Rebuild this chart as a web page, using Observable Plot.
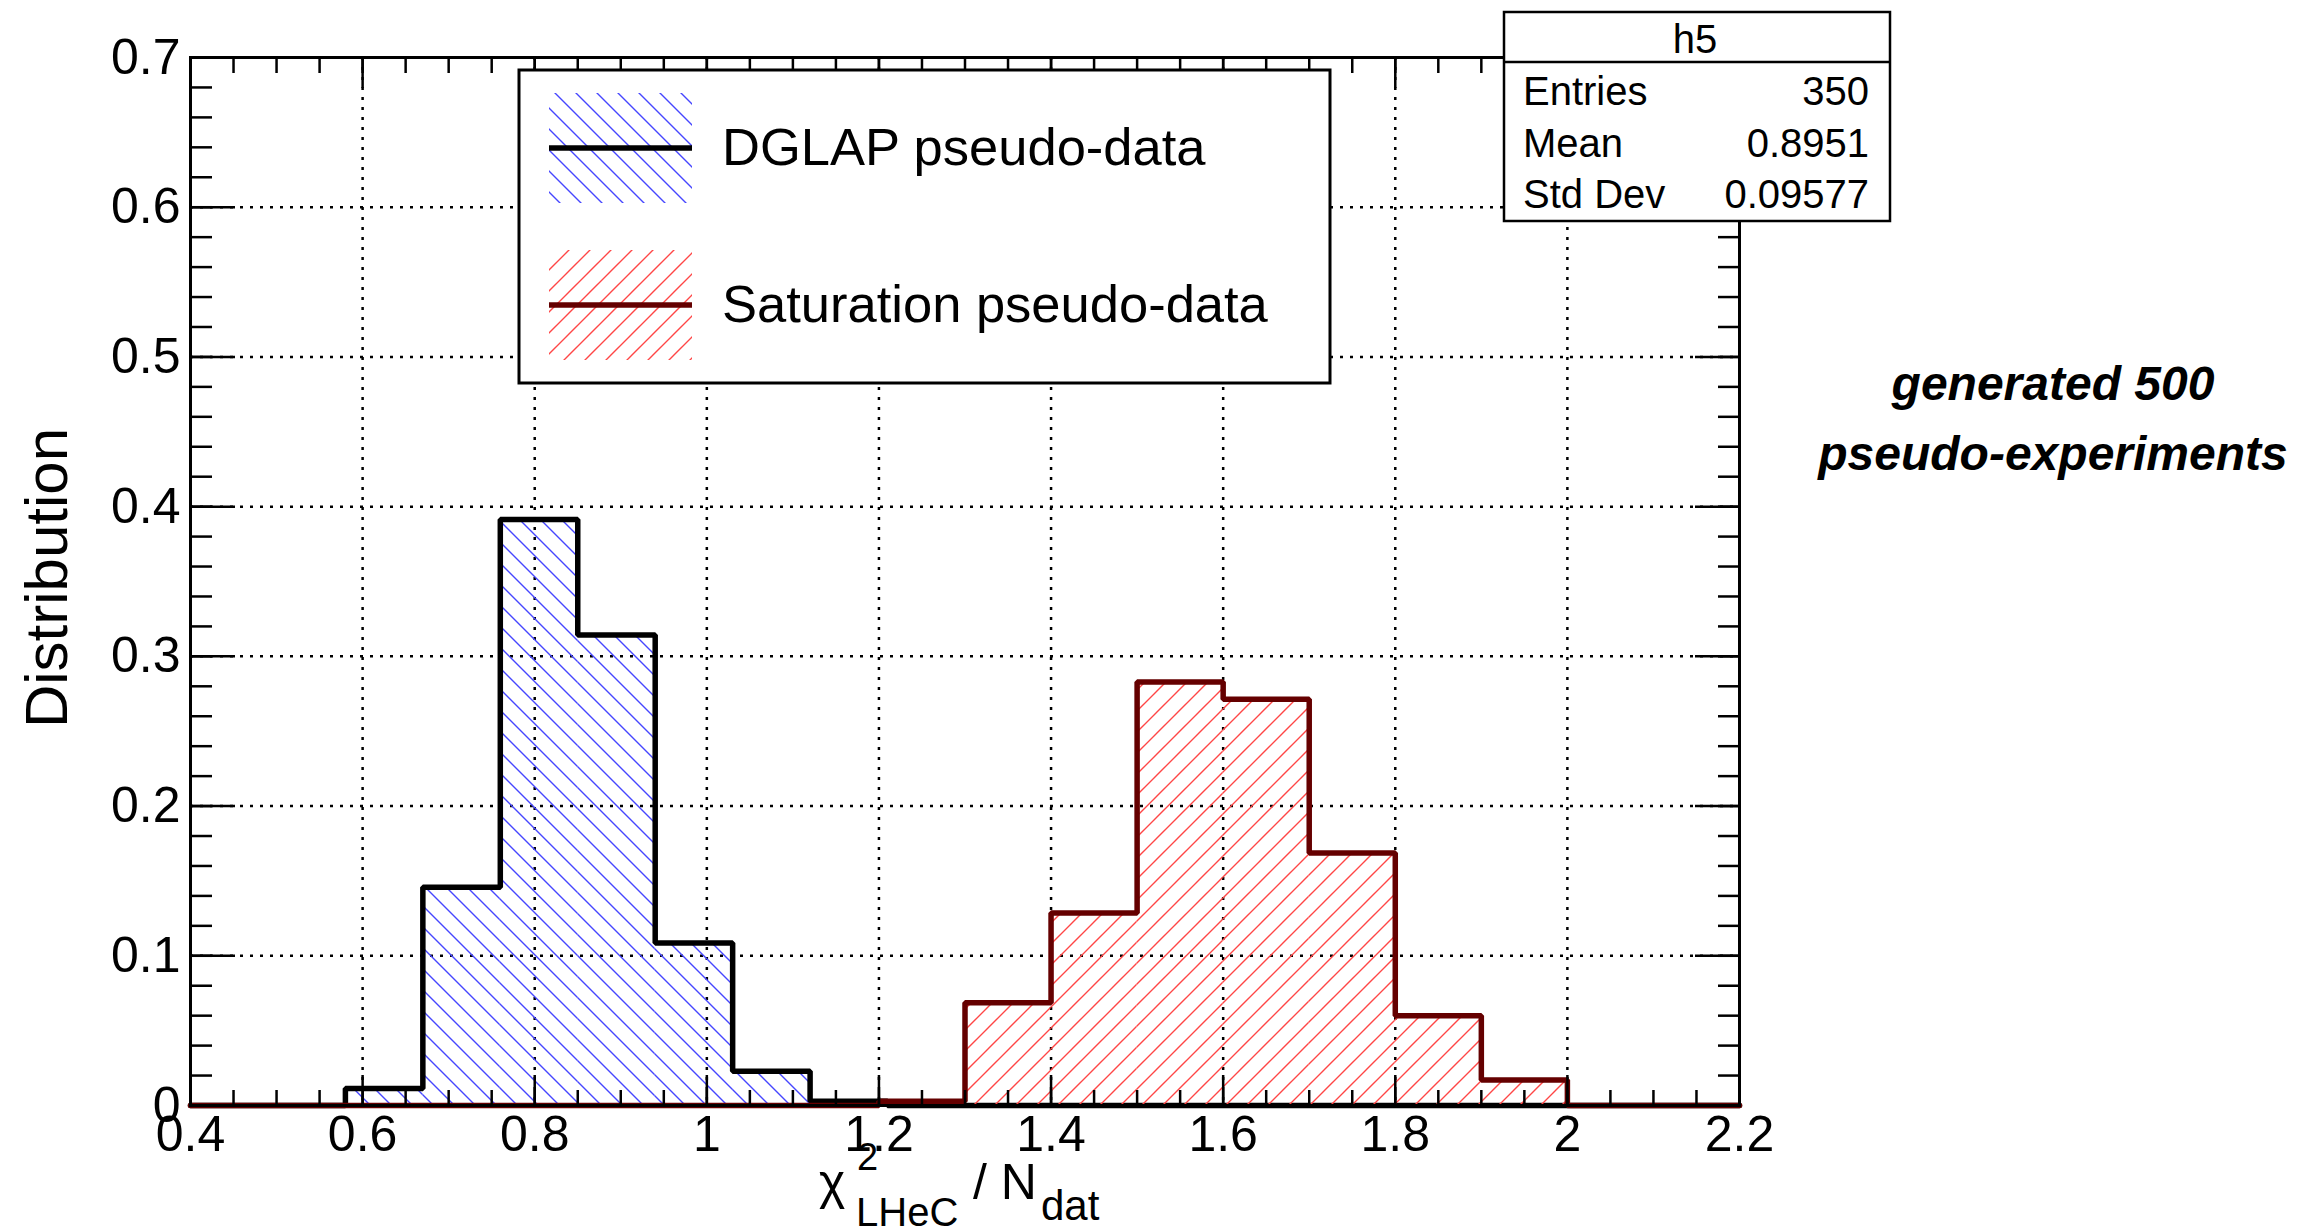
<!DOCTYPE html>
<html><head><meta charset="utf-8">
<script src="https://cdn.jsdelivr.net/npm/d3@7"></script>
<script src="https://cdn.jsdelivr.net/npm/@observablehq/plot@0.6"></script>
<style>
html,body{margin:0;padding:0;background:#fff;}
#chart{position:relative;width:2321px;height:1232px;}
svg{display:block;}
</style></head><body><div id="chart"></div>
<script>
// ---- data ----
const dglapEdges = [0.4,0.49,0.58,0.67,0.76,0.85,0.94,1.03,1.12,1.21,1.30,1.39,1.48,1.57,1.66,1.75,1.84,1.93,2.02,2.11,2.2];
const dglapValues = [0,0,0.0114,0.1457,0.3914,0.3143,0.1086,0.0229,0.0029,0,0,0,0,0,0,0,0,0,0,0];
const satEdges = [0.4,0.5,0.6,0.7,0.8,0.9,1.0,1.1,1.2,1.3,1.4,1.5,1.6,1.7,1.8,1.9,2.0,2.1,2.2];
const satValues = [0,0,0,0,0,0,0,0,0.0029,0.0686,0.1286,0.2829,0.2714,0.1686,0.06,0.0171,0,0];
const xTicks = [0.4,0.6,0.8,1.0,1.2,1.4,1.6,1.8,2.0,2.2];
const yTicks = [0,0.1,0.2,0.3,0.4,0.5,0.6,0.7];
const xGridTicks = [0.6,0.8,1.0,1.2,1.4,1.6,1.8,2.0];
const yGridTicks = [0.1,0.2,0.3,0.4,0.5,0.6];
const legendLabels = ["DGLAP pseudo-data","Saturation pseudo-data"];
const statsTitle = "h5";
const statsRows = [["Entries","350"],["Mean","0.8951"],["Std Dev","0.09577"]];
const noteLines = ["generated 500","pseudo-experiments"];

const xMinor = d3.range(0, 37).map(i => +(0.4 + i*0.05).toFixed(2));
const yMinor = d3.range(0, 36).map(i => +(i*0.02).toFixed(2));

const bins = (edges, values) => values.map((v,i) => ({x1: edges[i], x2: edges[i+1], y: v}));
const steps = (edges, values) => edges.map((e,i) => ({x: e, y: values[Math.min(i, values.length-1)]}));

const FONT = "'Liberation Sans', Arial, Helvetica, sans-serif";
const fmt = d => String(+(+d).toFixed(1));
const black = "#000000", darkRed = "#650000";

const plot = Plot.plot({
  width: 2321, height: 1232,
  marginLeft: 190, marginRight: 582, marginTop: 57, marginBottom: 127,
  style: {fontFamily: FONT, background: "white", color: "black"},
  x: {domain: [0.4, 2.2], label: null},
  y: {domain: [0, 0.7], label: null},
  marks: [
    Plot.ruleX(xGridTicks, {stroke: black, strokeWidth: 2.5, strokeDasharray: "3,7"}),
    Plot.ruleY(yGridTicks, {stroke: black, strokeWidth: 2.5, strokeDasharray: "3,7"}),
    Plot.rectY(bins(dglapEdges, dglapValues).filter(d => d.y > 0), {x1: "x1", x2: "x2", y: "y", fill: "url(#hatchBlue)"}),
    Plot.line(steps(dglapEdges, dglapValues), {x: "x", y: "y", curve: "step-after", stroke: black, strokeWidth: 5.5, strokeLinejoin: "miter"}),
    Plot.rectY(bins(satEdges, satValues).filter(d => d.y > 0), {x1: "x1", x2: "x2", y: "y", fill: "url(#hatchRed)"}),
    Plot.line(steps(satEdges, satValues), {x: "x", y: "y", curve: "step-after", stroke: darkRed, strokeWidth: 5.5, strokeLinejoin: "miter"}),
    // tick marks on all four sides, pointing inward
    Plot.axisX(xTicks, {anchor: "bottom", tickSize: -30, strokeWidth: 2.5, fill: "none", label: null}),
    Plot.axisX(xMinor, {anchor: "bottom", tickSize: -15, strokeWidth: 2.5, fill: "none", label: null}),
    Plot.axisX(xTicks, {anchor: "top", tickSize: -30, strokeWidth: 2.5, fill: "none", label: null}),
    Plot.axisX(xMinor, {anchor: "top", tickSize: -15, strokeWidth: 2.5, fill: "none", label: null}),
    Plot.axisY(yTicks, {anchor: "left", tickSize: -45, strokeWidth: 2.5, fill: "none", label: null}),
    Plot.axisY(yMinor, {anchor: "left", tickSize: -22, strokeWidth: 2.5, fill: "none", label: null}),
    Plot.axisY(yTicks, {anchor: "right", tickSize: -45, strokeWidth: 2.5, fill: "none", label: null}),
    Plot.axisY(yMinor, {anchor: "right", tickSize: -22, strokeWidth: 2.5, fill: "none", label: null}),
    // tick labels
    Plot.axisX(xTicks, {anchor: "bottom", tickSize: 0, tickPadding: 10, fontSize: 50, tickFormat: fmt, label: null, fill: black}),
    Plot.axisY(yTicks, {anchor: "left", tickSize: 0, tickPadding: 10, fontSize: 50, tickFormat: fmt, label: null, fill: black}),
    Plot.frame({stroke: black, strokeWidth: 3})
  ]
});
document.getElementById("chart").appendChild(plot);

const svg = d3.select(plot);
const defs = svg.insert("defs", ":first-child");
const S = 21;
function hatch(id, color, dir) {
  const p = defs.append("pattern").attr("id", id).attr("patternUnits", "userSpaceOnUse")
    .attr("width", S).attr("height", S);
  const d = dir === "back"
    ? `M0,0 L${S},${S} M${-S/2},${S/2} L${S/2},${1.5*S} M${S/2},${-S/2} L${1.5*S},${S/2}`
    : `M0,${S} L${S},0 M${-S/2},${S/2} L${S/2},${-S/2} M${S/2},${1.5*S} L${1.5*S},${S/2}`;
  p.append("path").attr("d", d).attr("stroke", color).attr("stroke-width", 1.4).attr("fill", "none");
}
hatch("hatchBlue", "#4646ff", "back");
hatch("hatchRed", "#ff4646", "fwd");

const ann = svg.append("g").attr("font-family", FONT).attr("fill", "black").attr("text-anchor", "start");

// legend box
ann.append("rect").attr("x", 519).attr("y", 70).attr("width", 811).attr("height", 313)
  .attr("fill", "white").attr("stroke", "black").attr("stroke-width", 3);
const legendItems = [
  {label: legendLabels[0], pat: "hatchBlue", line: black, y0: 93},
  {label: legendLabels[1], pat: "hatchRed", line: darkRed, y0: 250}
];
legendItems.forEach(it => {
  ann.append("rect").attr("x", 549).attr("y", it.y0).attr("width", 143).attr("height", 110)
    .attr("fill", `url(#${it.pat})`);
  ann.append("line").attr("x1", 549).attr("x2", 692).attr("y1", it.y0 + 55).attr("y2", it.y0 + 55)
    .attr("stroke", it.line).attr("stroke-width", 5.5);
  ann.append("text").attr("x", 722).attr("y", it.y0 + 72).attr("font-size", 52.5)
    .attr("text-anchor", "start").text(it.label);
});

// stats box
ann.append("rect").attr("x", 1504).attr("y", 12).attr("width", 386).attr("height", 209)
  .attr("fill", "white").attr("stroke", "black").attr("stroke-width", 2.5);
ann.append("line").attr("x1", 1504).attr("x2", 1890).attr("y1", 62).attr("y2", 62)
  .attr("stroke", "black").attr("stroke-width", 2.5);
ann.append("text").attr("x", 1695).attr("y", 53).attr("font-size", 40).attr("text-anchor", "middle").text(statsTitle);
statsRows.forEach((r, i) => {
  const y = 105 + i * 51.5;
  ann.append("text").attr("x", 1523).attr("y", y).attr("font-size", 40).attr("text-anchor", "start").text(r[0]);
  ann.append("text").attr("x", 1869).attr("y", y).attr("font-size", 40).attr("text-anchor", "end").text(r[1]);
});

// note
noteLines.forEach((t, i) => {
  ann.append("text").attr("x", 2053).attr("y", 400 + i * 70).attr("font-size", 48)
    .attr("font-weight", "bold").attr("font-style", "italic").attr("text-anchor", "middle").text(t);
});

// y title
ann.append("text").attr("transform", "translate(67,578) rotate(-90)").attr("font-size", 60)
  .attr("text-anchor", "middle").text("Distribution");

// x title: chi^2_LHeC / N_dat
const xt = ann.append("text").attr("font-size", 50).attr("text-anchor", "start");
xt.append("tspan").attr("x", 819).attr("y", 1199).text("χ");
xt.append("tspan").attr("x", 857).attr("y", 1170).attr("font-size", 38).text("2");
xt.append("tspan").attr("x", 856).attr("y", 1226).attr("font-size", 40).text("LHeC");
xt.append("tspan").attr("x", 973).attr("y", 1199).text("/ N");
xt.append("tspan").attr("x", 1041).attr("y", 1220).attr("font-size", 42).text("dat");
</script>
</body></html>
